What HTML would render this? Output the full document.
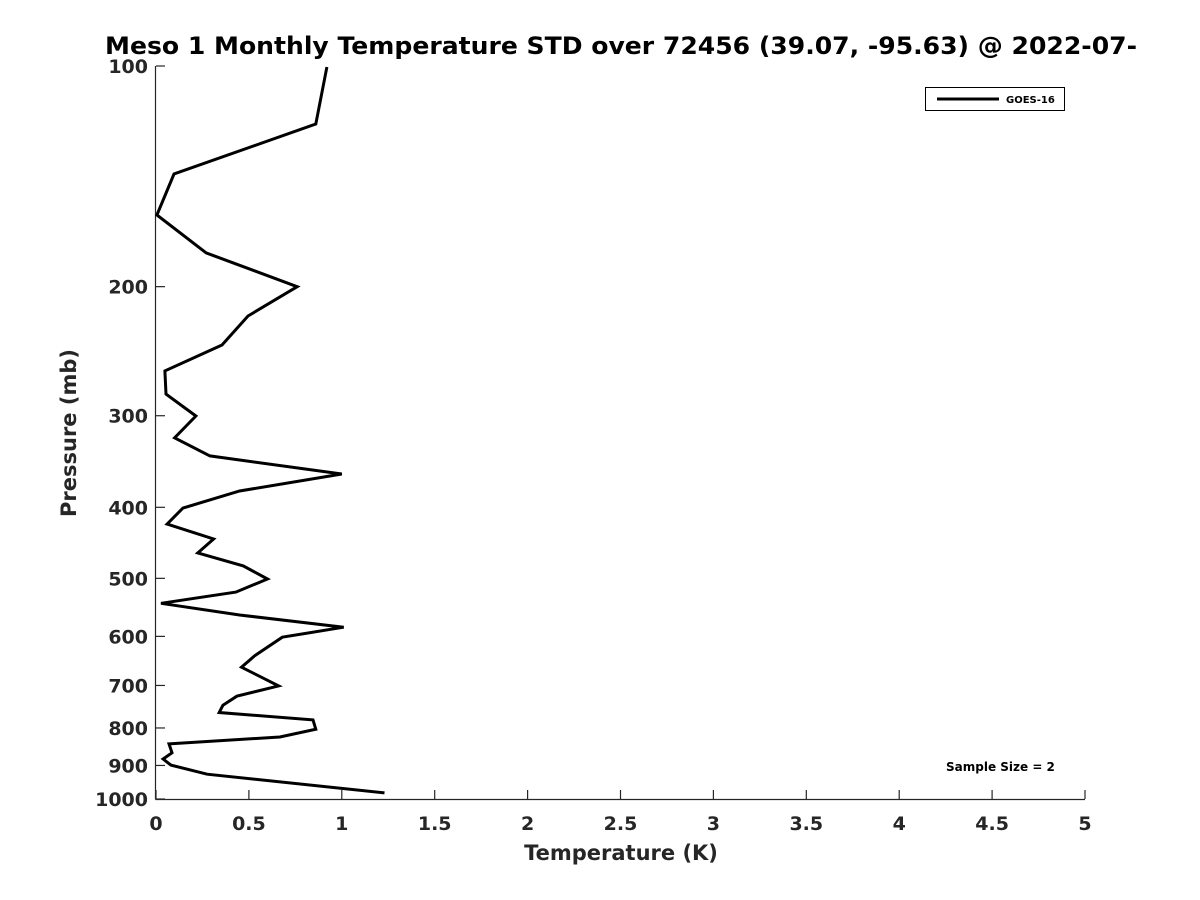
<!DOCTYPE html>
<html><head><meta charset="utf-8"><style>
html,body{margin:0;padding:0;background:#fff;}
svg{display:block;font-family:"DejaVu Sans","Liberation Sans",sans-serif;font-weight:bold;}
</style></head><body>
<svg id="chart" width="1200" height="900" viewBox="0 0 1200 900" xmlns="http://www.w3.org/2000/svg">
<rect width="1200" height="900" fill="#fff"/>
<text x="105" y="54" font-size="24" fill="#000" textLength="1032" lengthAdjust="spacingAndGlyphs">Meso 1 Monthly Temperature STD over 72456 (39.07, -95.63) @ 2022-07-</text>
<g id="axes"></g>
<polyline id="series" fill="none" stroke="#000" stroke-width="3" stroke-linejoin="miter"/>
<g>
<rect x="925.5" y="87.5" width="139" height="23" fill="#fff" stroke="#000" stroke-width="1"/>
<line x1="937" y1="99" x2="999" y2="99" stroke="#000" stroke-width="3"/>
<text x="1006" y="103" font-size="10" fill="#000">GOES-16</text>
</g>
<text x="946" y="771" font-size="12" fill="#000">Sample Size = 2</text>
<text x="621" y="860" font-size="21" fill="#262626" text-anchor="middle">Temperature (K)</text>
<text x="0" y="0" font-size="21" fill="#262626" text-anchor="middle" transform="translate(76,433) rotate(-90)">Pressure (mb)</text>
</svg>
<script>
const temps = [0.92,0.86,0.097,0.005,0.27,0.76,0.495,0.355,0.048,0.054,0.215,0.10,0.29,1.0,0.45,0.145,0.06,0.31,0.225,0.47,0.60,0.43,0.027,0.45,1.01,0.68,0.53,0.46,0.66,0.435,0.36,0.34,0.845,0.86,0.667,0.07,0.086,0.038,0.08,0.275,1.23];
const pressures = [100.3,120,140.4,159.7,179.9,200,219.3,240.2,260.6,280.3,300.3,321.5,340.4,360.3,380,401,421.7,441.8,461.6,480.9,501,522,540.7,561,583,601.6,638,661,701,724,745,762,780,803,823,841,865,882,899,925,981];
const xTicks = [0,0.5,1,1.5,2,2.5,3,3.5,4,4.5,5];
const xTickLabels = ["0","0.5","1","1.5","2","2.5","3","3.5","4","4.5","5"];
const yTicks = [100,200,300,400,500,600,700,800,900,1000];
const yTickLabels = ["100","200","300","400","500","600","700","800","900","1000"];

const X0=156,X1=1085,Y0=66,Y1=799;
function xs(v){return X0+(v-0)/(5-0)*(X1-X0);}
function ys(p){return Y0+(Math.log10(p)-2)/(3-2)*(Y1-Y0);}
const NS="http://www.w3.org/2000/svg";
const ax=document.getElementById('axes');
function mk(tag,attrs){const e=document.createElementNS(NS,tag);for(const k in attrs)e.setAttribute(k,attrs[k]);return e;}
let l=mk('line',{x1:X0-0.5,y1:Y0,x2:X0-0.5,y2:Y1+0.5,stroke:'#262626','stroke-width':1.2});


ax.appendChild(l);
l=mk('line',{x1:X0-0.5,y1:Y1+0.5,x2:X1,y2:Y1+0.5,stroke:'#262626','stroke-width':1.2});


ax.appendChild(l);
xTicks.forEach((v,i)=>{
  const x=xs(v);
  const t=mk('line',{x1:x,y1:Y1,x2:x,y2:Y1-9,stroke:'#262626','stroke-width':1.2});
  
  
  ax.appendChild(t);
  const tx=mk('text',{x:x,y:Y1+31,'font-size':19,fill:'#262626','text-anchor':'middle'});
  tx.textContent=xTickLabels[i];
  
  
  ax.appendChild(tx);
});
yTicks.forEach((p,i)=>{
  const y=ys(p);
  const t=mk('line',{x1:X0,y1:y,x2:X0+9,y2:y,stroke:'#262626','stroke-width':1.2});
  
  
  ax.appendChild(t);
  const tx=mk('text',{x:X0-8,y:y+7,'font-size':19,fill:'#262626','text-anchor':'end'});
  tx.textContent=yTickLabels[i];
  
  
  ax.appendChild(tx);
});
document.getElementById('series').setAttribute('points',temps.map((v,i)=>xs(v).toFixed(1)+','+ys(pressures[i]).toFixed(1)).join(' '));
</script>
</body></html>
